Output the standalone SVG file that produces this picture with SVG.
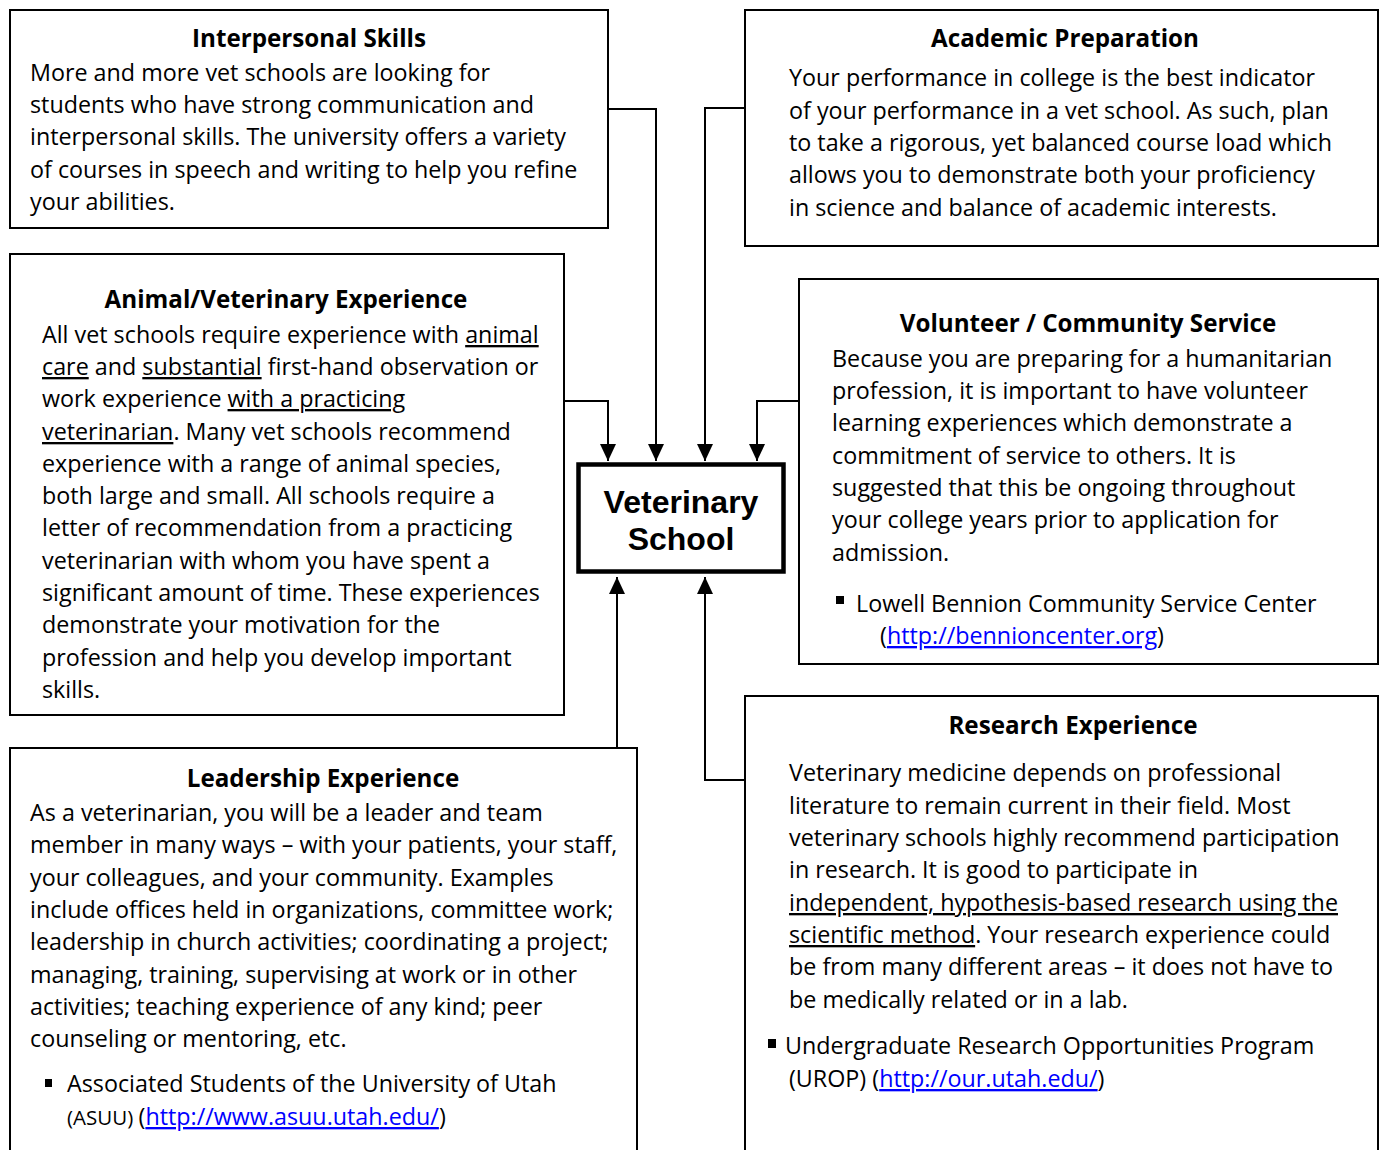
<svg xmlns="http://www.w3.org/2000/svg" width="1382" height="1150" viewBox="0 0 1382 1150">
<defs>
<style>
.box{fill:#fff;stroke:#000;stroke-width:2}
.t{font-family:"Open Sans","Liberation Sans",sans-serif;font-size:23.3px;fill:#000}
.h{font-family:"Open Sans","Liberation Sans",sans-serif;font-size:24.2px;font-weight:bold;fill:#000;text-anchor:middle}
.u{text-decoration:underline}
.lnk{fill:#0000ff;text-decoration:underline}
.c{fill:none;stroke:#000;stroke-width:2}
.bul{fill:#000}
</style>
<marker id="ah" markerUnits="userSpaceOnUse" markerWidth="18" markerHeight="18" viewBox="0 0 18 18" refX="17" refY="9" orient="auto">
<path d="M0,1 L17,9 L0,17 Z" fill="#000"/>
</marker>
</defs>
<rect width="1382" height="1150" fill="#fff"/>

<g id="connectors">
<path class="c" d="M608,109 H656 V461" marker-end="url(#ah)"/>
<path class="c" d="M745,108 H705 V461" marker-end="url(#ah)"/>
<path class="c" d="M564,401 H608 V461" marker-end="url(#ah)"/>
<path class="c" d="M799,401 H757 V461" marker-end="url(#ah)"/>
<path class="c" d="M617,748 V577" marker-end="url(#ah)"/>
<path class="c" d="M745,780 H705 V577" marker-end="url(#ah)"/>
</g>

<g id="interpersonal">
<rect class="box" x="10" y="10" width="598" height="218"/>
<text class="h" x="309" y="47">Interpersonal Skills</text>
<text class="t" x="30" y="81">More and more vet schools are looking for</text>
<text class="t" x="30" y="113">students who have strong communication and</text>
<text class="t" x="30" y="145">interpersonal skills. The university offers a variety</text>
<text class="t" x="30" y="178">of courses in speech and writing to help you refine</text>
<text class="t" x="30" y="210">your abilities.</text>
</g>

<g id="academic">
<rect class="box" x="745" y="10" width="633" height="236"/>
<text class="h" x="1065" y="47">Academic Preparation</text>
<text class="t" x="789" y="86">Your performance in college is the best indicator</text>
<text class="t" x="789" y="119">of your performance in a vet school. As such, plan</text>
<text class="t" x="789" y="151">to take a rigorous, yet balanced course load which</text>
<text class="t" x="789" y="183">allows you to demonstrate both your proficiency</text>
<text class="t" x="789" y="216">in science and balance of academic interests.</text>
</g>

<g id="animal">
<rect class="box" x="10" y="254" width="554" height="461"/>
<text class="h" x="286" y="308">Animal/Veterinary Experience</text>
<text class="t" x="42" y="343">All vet schools require experience with <tspan class="u">animal</tspan></text>
<text class="t" x="42" y="375"><tspan class="u">care</tspan> and <tspan class="u">substantial</tspan> first-hand observation or</text>
<text class="t" x="42" y="407">work experience <tspan class="u">with a practicing</tspan></text>
<text class="t" x="42" y="440"><tspan class="u">veterinarian</tspan>. Many vet schools recommend</text>
<text class="t" x="42" y="472">experience with a range of animal species,</text>
<text class="t" x="42" y="504">both large and small. All schools require a</text>
<text class="t" x="42" y="536">letter of recommendation from a practicing</text>
<text class="t" x="42" y="569">veterinarian with whom you have spent a</text>
<text class="t" x="42" y="601">significant amount of time. These experiences</text>
<text class="t" x="42" y="633">demonstrate your motivation for the</text>
<text class="t" x="42" y="666">profession and help you develop important</text>
<text class="t" x="42" y="698">skills.</text>
</g>

<g id="volunteer">
<rect class="box" x="799" y="279" width="579" height="385"/>
<text class="h" x="1088" y="332">Volunteer / Community Service</text>
<text class="t" x="832" y="367">Because you are preparing for a humanitarian</text>
<text class="t" x="832" y="399">profession, it is important to have volunteer</text>
<text class="t" x="832" y="431">learning experiences which demonstrate a</text>
<text class="t" x="832" y="464">commitment of service to others. It is</text>
<text class="t" x="832" y="496">suggested that this be ongoing throughout</text>
<text class="t" x="832" y="528">your college years prior to application for</text>
<text class="t" x="832" y="561">admission.</text>
<rect class="bul" x="836" y="596" width="8" height="8"/>
<text class="t" x="856" y="612">Lowell Bennion Community Service Center</text>
<text class="t" x="880" y="644">(<tspan class="lnk">http://bennioncenter.org</tspan>)</text>
</g>

<g id="leadership">
<rect class="box" x="10" y="748" width="627" height="410"/>
<text class="h" x="323" y="787">Leadership Experience</text>
<text class="t" x="30" y="821">As a veterinarian, you will be a leader and team</text>
<text class="t" x="30" y="853">member in many ways – with your patients, your staff,</text>
<text class="t" x="30" y="886">your colleagues, and your community. Examples</text>
<text class="t" x="30" y="918">include offices held in organizations, committee work;</text>
<text class="t" x="30" y="950">leadership in church activities; coordinating a project;</text>
<text class="t" x="30" y="983">managing, training, supervising at work or in other</text>
<text class="t" x="30" y="1015">activities; teaching experience of any kind; peer</text>
<text class="t" x="30" y="1047">counseling or mentoring, etc.</text>
<rect class="bul" x="45" y="1079" width="7" height="8"/>
<text class="t" x="67" y="1092">Associated Students of the University of Utah</text>
<text class="t" x="67" y="1125"><tspan font-size="20.5">(ASUU) </tspan>(<tspan class="lnk">http://www.asuu.utah.edu/</tspan>)</text>
</g>

<g id="research">
<rect class="box" x="745" y="696" width="633" height="460"/>
<text class="h" x="1073" y="734">Research Experience</text>
<text class="t" x="789" y="781">Veterinary medicine depends on professional</text>
<text class="t" x="789" y="814">literature to remain current in their field. Most</text>
<text class="t" x="789" y="846">veterinary schools highly recommend participation</text>
<text class="t" x="789" y="878">in research. It is good to participate in</text>
<text class="t" x="789" y="911"><tspan class="u">independent, hypothesis-based research using the</tspan></text>
<text class="t" x="789" y="943"><tspan class="u">scientific method</tspan>. Your research experience could</text>
<text class="t" x="789" y="975">be from many different areas – it does not have to</text>
<text class="t" x="789" y="1008">be medically related or in a lab.</text>
<rect class="bul" x="768" y="1039" width="8" height="9"/>
<text class="t" x="785" y="1054">Undergraduate Research Opportunities Program</text>
<text class="t" x="789" y="1087">(UROP) (<tspan class="lnk">http://our.utah.edu/</tspan>)</text>
</g>

<g id="vetschool">
<rect x="578.5" y="464.5" width="205" height="107" fill="#fff" stroke="#000" stroke-width="4.5"/>
<text x="681" y="513" font-family="'Liberation Sans',Arial,sans-serif" font-size="32" font-weight="bold" text-anchor="middle">Veterinary</text>
<text x="681" y="550" font-family="'Liberation Sans',Arial,sans-serif" font-size="32" font-weight="bold" text-anchor="middle">School</text>
</g>
</svg>
